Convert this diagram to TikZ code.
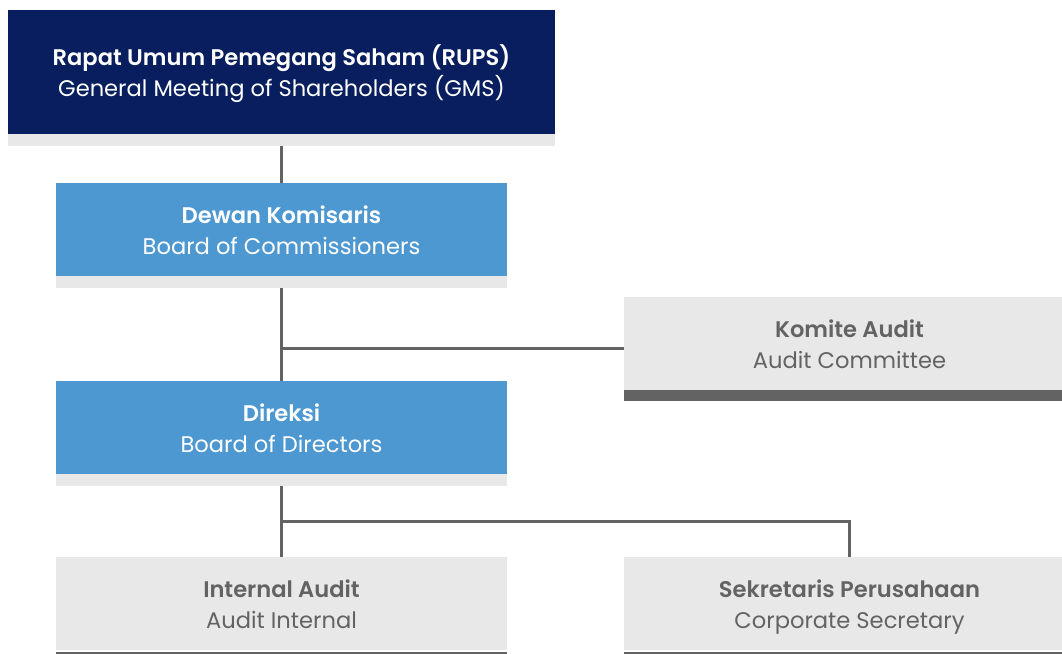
\documentclass[tikz,border=0pt]{standalone}
\usepackage{fontspec}
\setmainfont{Poppins}[BoldFont={Poppins SemiBold}]
\usetikzlibrary{positioning}

\definecolor{rupsnavy}{HTML}{081E5E}
\definecolor{boardblue}{HTML}{4D98D1}
\definecolor{palegray}{HTML}{E8E8E8}
\definecolor{darkgray}{HTML}{636363}

% two-line box text: bold Indonesian name over the English one
\newcommand{\orgname}[2]{\rule{0pt}{28pt}\textbf{#1}\\#2\strut}

\tikzset{
  box/.style={rectangle, inner sep=0pt, align=center,
    font=\fontsize{22.6}{31}\selectfont},
  topbox/.style={box, fill=rupsnavy, text=white,
    minimum width=547pt, minimum height=124pt},
  boardbox/.style={box, fill=boardblue, text=white,
    minimum width=451pt, minimum height=93pt},
  unitbox/.style={box, fill=palegray, text=darkgray,
    minimum width=451pt, minimum height=93pt},
  link/.style={darkgray, line width=3pt},
}

\begin{document}
\begin{tikzpicture}[x=1pt,y=-1pt]
\useasboundingbox (0,0) rectangle (1062,653);

% boxes
\node[topbox] (rups) at (281.5,72)
  {\orgname{Rapat Umum Pemegang Saham (RUPS)}{General Meeting of Shareholders (GMS)}};
\node[boardbox] (dekom) at (281.5,229.5)
  {\orgname{Dewan Komisaris}{Board of Commissioners}};
\node[boardbox] (direksi) at (281.5,427.5)
  {\orgname{Direksi}{Board of Directors}};
\node[unitbox] (komite) at (849.5,343.5)
  {\orgname{Komite Audit}{Audit Committee}};
\node[unitbox] (intaudit) at (281.5,603.5)
  {\orgname{Internal Audit}{Audit Internal}};
\node[unitbox] (sekper) at (849.5,603.5)
  {\orgname{Sekretaris Perusahaan}{Corporate Secretary}};

% connectors
\coordinate (kajoin) at (281.5,348);
\coordinate (split) at (281.5,521);
\draw[link] (rups.south) -- (dekom.north);
\draw[link] (dekom.south) -- (direksi.north);
\draw[link] (kajoin) -- (kajoin -| komite.west);
\draw[link] (direksi.south) -- (intaudit.north);
\draw[link] (split) -| (sekper.north);

% strips under the boxes
\fill[palegray] (rups.south west) rectangle ++(547,12);
\fill[palegray] (dekom.south west) rectangle ++(451,12);
\fill[palegray] (direksi.south west) rectangle ++(451,12);
\fill[darkgray] (komite.south west) rectangle ++(451,11);
\fill[darkgray] ([yshift=-2pt]intaudit.south west) rectangle ++(451,11);
\fill[darkgray] ([yshift=-2pt]sekper.south west) rectangle ++(451,11);
\end{tikzpicture}
\end{document}
